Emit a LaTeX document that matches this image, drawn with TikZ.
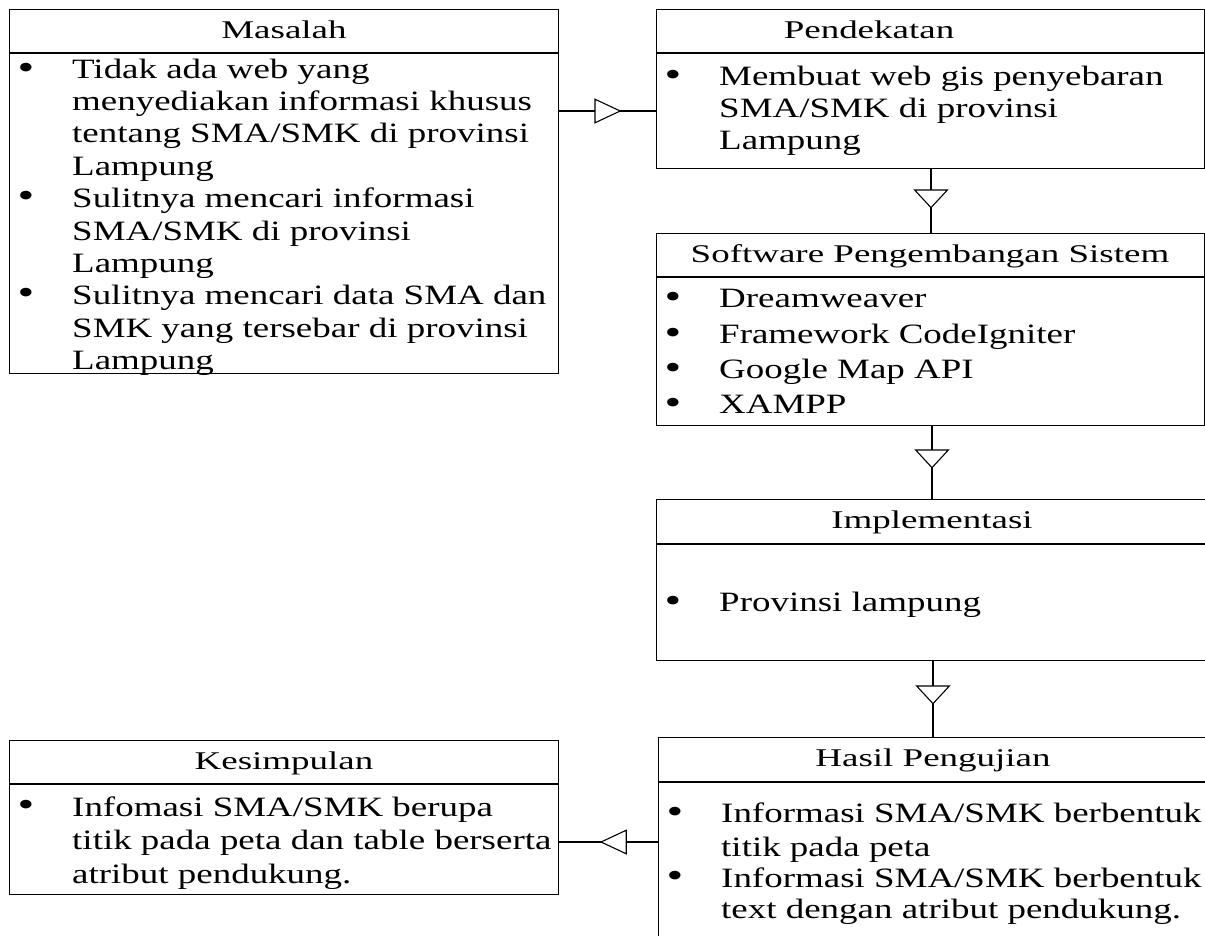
\documentclass[tikz,border=0pt]{standalone}
\usepackage{fontspec}
\usetikzlibrary{arrows.meta,decorations.markings}
\newfontfamily\bodyfont{Liberation Serif}[FakeStretch=1.32]
\newfontfamily\headfont{Liberation Serif}[FakeStretch=1.45]
\begin{document}
\begin{tikzpicture}[x=1pt,y=-1pt,
  box/.style={draw, line width=1.3pt, anchor=north west, inner sep=0pt},
  rule/.style={line width=1.3pt},
  head/.style={anchor=base, inner sep=0pt, font=\headfont\fontsize{25.5}{30}\selectfont},
  item/.style={anchor=base west, inner sep=0pt, align=left, font=\bodyfont\fontsize{28}{32.1}\selectfont},
  wide/.style={font=\bodyfont\fontsize{28}{#1}\selectfont},
  bul/.style={anchor=base, inner sep=0pt, font=\bodyfont\fontsize{36}{32.1}\selectfont},
  conn/.style={line width=1.1pt, postaction={decorate}},
  hmark/.style={decoration={markings, mark=at position #1 with {\arrow{Triangle[length=27pt,width=25pt,fill=white,line width=1.1pt]}}}},
  vmark/.style={decoration={markings, mark=at position #1 with {\arrow{Triangle[length=19pt,width=35pt,fill=white,line width=1.1pt]}}}}
]
\useasboundingbox (0,0) rectangle (1205,935);
\clip (0,0) rectangle (1205,935);

% boxes
\node[box, minimum width=549pt, minimum height=364pt] (mas) at (9,9) {};
\node[box, minimum width=548pt, minimum height=159pt] (pen) at (656,9) {};
\node[box, minimum width=548pt, minimum height=192pt] (sof) at (656,233) {};
\node[box, minimum width=556pt, minimum height=161pt] (imp) at (656,499) {};
\node[box, minimum width=556pt, minimum height=220pt] (has) at (658,737) {};
\node[box, minimum width=549pt, minimum height=154pt] (kes) at (9,740) {};

% header rules
\draw[rule] (mas.west |- 0,53) -- (mas.east |- 0,53);
\draw[rule] (pen.west |- 0,53) -- (pen.east |- 0,53);
\draw[rule] (sof.west |- 0,277) -- (sof.east |- 0,277);
\draw[rule] (imp.west |- 0,544) -- (imp.east |- 0,544);
\draw[rule] (has.west |- 0,782) -- (has.east |- 0,782);
\draw[rule] (kes.west |- 0,784) -- (kes.east |- 0,784);

% headers
\node[head] (hmas) at (284,38) {Masalah};
\node[head] (hpen) at (869,38) {Pendekatan};
\node[head] (hsof) at (930,262) {Software Pengembangan Sistem};
\node[head] (himp) at (932,528) {Implementasi};
\node[head] (hhas) at (933,766) {Hasil Pengujian};
\node[head] (hkes) at (284,769) {Kesimpulan};

% Masalah items (anchor = baseline of last line)
\node[bul] (bm1) at (26,79) {•};
\node[item, wide=32.4] (m1) at (72,175.2) {Tidak ada web yang\\menyediakan informasi khusus\\tentang SMA/SMK di provinsi\\Lampung};
\node[bul] (bm2) at (26,207.6) {•};
\node[item, wide=32.4] (m2) at (72,272.4) {Sulitnya mencari informasi\\SMA/SMK di provinsi\\Lampung};
\node[bul] (bm3) at (26,304.8) {•};
\node[item, wide=32.4] (m3) at (72,369.6) {Sulitnya mencari data SMA dan\\SMK yang tersebar di provinsi\\Lampung};

% Pendekatan
\node[bul] (bp1) at (673,86) {•};
\node[item] (p1) at (719,149.2) {Membuat web gis penyebaran\\SMA/SMK di provinsi\\Lampung};

% Software
\node[bul] (bs1) at (673,308) {•};
\node[item] (s1) at (719,307) {Dreamweaver};
\node[bul] (bs2) at (673,344) {•};
\node[item] (s2) at (719,343) {Framework CodeIgniter};
\node[bul] (bs3) at (673,379) {•};
\node[item] (s3) at (719,378) {Google Map API};
\node[bul] (bs4) at (673,414) {•};
\node[item] (s4) at (719,413) {XAMPP};

% Implementasi
\node[bul] (bi1) at (673,612) {•};
\node[item] (i1) at (719,611) {Provinsi lampung};

% Hasil
\node[bul] (bh1) at (675,823) {•};
\node[item, wide=34] (h1) at (721,856) {Informasi SMA/SMK berbentuk\\titik pada peta};
\node[bul] (bh2) at (675,887) {•};
\node[item, wide=31] (h2) at (721,918) {Informasi SMA/SMK berbentuk\\text dengan atribut pendukung.};

% Kesimpulan
\node[bul] (bk1) at (26,816) {•};
\node[item, wide=33.5] (k1) at (72,883) {Infomasi SMA/SMK berupa\\titik pada peta dan table berserta\\atribut pendukung.};

% connectors
\draw[conn, hmark=0.643] (mas.east |- 0,111) -- (pen.west |- 0,111);
\draw[conn, vmark=0.615] (pen.south -| 931,0) -- (sof.north -| 931,0);
\draw[conn, vmark=0.58] (sof.south -| 932,0) -- (imp.north -| 932,0);
\draw[conn, vmark=0.57] (imp.south -| 933,0) -- (has.north -| 933,0);
\draw[conn, hmark=0.59] (has.west |- 0,842) -- (kes.east |- 0,842);
\end{tikzpicture}
\end{document}
